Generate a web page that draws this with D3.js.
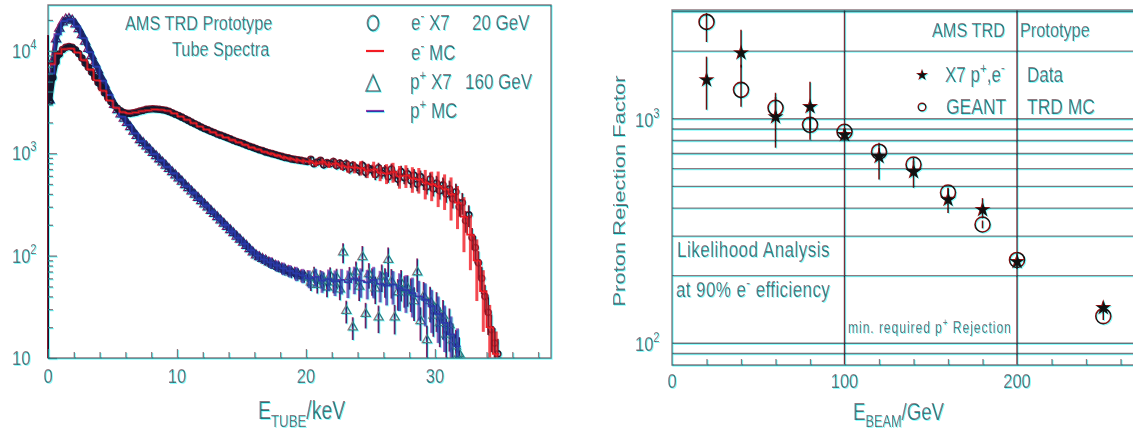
<!DOCTYPE html>
<html>
<head>
<meta charset="utf-8">
<script src="https://cdn.jsdelivr.net/npm/d3@7/dist/d3.min.js"></script>
<style>
  html, body { margin: 0; padding: 0; background: #fff; }
  svg { display: block; }
  text { font-family: "Liberation Sans", Arial, Helvetica, sans-serif; }
</style>
</head>
<body>
<svg id="fig" width="1133" height="433"></svg>
<script>
// ---------------- Tube spectra (left panel) ----------------
// Histogram contents; data bins are 0.25 keV wide, MC bins 0.5 keV wide, starting at 0 keV.
const DATA_BIN = 0.25;
const MC_BIN = 0.5;

// e- X7 20 GeV data
const electronData = [
  3200, 5500, 7800, 9300, 10300, 10800, 11000, 10800, 10200, 9400, 8500, 7600, 6900, 6200, 5500, 4900, 4400, 3900, 3500, 3200,
  2950, 2750, 2600, 2500, 2450, 2450, 2480, 2520, 2580, 2620, 2680, 2700, 2720, 2700, 2690, 2660, 2620, 2560, 2480, 2400,
  2330, 2250, 2170, 2090, 2010, 1940, 1870, 1800, 1740, 1690, 1640, 1590, 1540, 1500, 1460, 1420, 1380, 1340, 1300, 1270,
  1240, 1200, 1170, 1140, 1110, 1080, 1060, 1030, 1010, 990, 970, 950, 930, 910, 900, 880, 870, 860, 850, 840,
  830, 870, 790, 820, 850, 770, 810, 790, 830, 760, 800, 740, 790, 700, 760, 720, 680, 760, 650, 710,
  690, 620, 720, 640, 680, 590, 700, 610, 560, 660, 580, 630, 540, 610, 500, 590, 520, 470, 560, 450,
  510, 430, 490, 400, 450, 360, 420, 300, 330, 220, 250, 150, 120, 85, 60, 40, 28, 19, 14, 11
];

// p+ X7 160 GeV data
const protonData = [
  3300, 8000, 13000, 16500, 19000, 20300, 20500, 19800, 18200, 16300, 14300, 12300, 10500, 8900, 7600, 6500, 5500, 4700, 4000, 3450,
  2980, 2650, 2400, 2180, 1980, 1800, 1630, 1480, 1350, 1260, 1170, 1090, 1010, 940, 875, 815, 760, 705, 655, 610,
  570, 530, 490, 457, 425, 395, 368, 342, 318, 296, 275, 256, 238, 221, 206, 191, 178, 166, 154, 144,
  134, 125, 116, 108, 101, 97, 93, 90, 86, 84, 80, 78, 75, 73, 71, 69, 68, 66, 64, 63,
  61, 55, 66, 52, 60, 57, 49, 64, 55, 61, 47, 108, 29, 62, 20, 70, 50, 97, 27, 66,
  58, 48, 25, 63, 57, 91, 56, 25, 44, 54, 47, 48, 44, 36, 69, 23, 40, 15, 36, 26,
  31, 22, 26, 17, 21, 15, 13, 11
];

// e- Monte Carlo
const electronMC = [
  7500, 9500, 10500, 10600, 9700, 8200, 6600, 5200, 4100, 3300,
  2800, 2550, 2480, 2520, 2600, 2650, 2700, 2680, 2620, 2480,
  2300, 2140, 1990, 1840, 1720, 1620, 1520, 1440, 1360, 1290,
  1220, 1150, 1100, 1040, 1000, 960, 920, 890, 865, 845,
  835, 800, 830, 780, 800, 760, 740, 730, 720, 680,
  700, 650, 640, 660, 600, 610, 570, 560, 520, 500,
  480, 450, 400, 330, 240, 160, 90, 45, 20, 11
];

// p+ Monte Carlo
const protonMC = [
  6000, 14500, 19500, 20300, 17300, 13300, 9700, 7000, 5100, 3700,
  2800, 2280, 1890, 1560, 1310, 1130, 980, 850, 735, 635,
  550, 475, 410, 355, 307, 266, 230, 199, 172, 149,
  130, 113, 100, 92, 86, 80, 75, 71, 67, 64,
  60, 62, 57, 59, 56, 58, 55, 60, 57, 55,
  58, 53, 51, 52, 48, 46, 43, 40, 37, 32,
  27, 22, 17, 13
];

// Relative uncertainties, one entry per 1 keV interval (0-1, 1-2, ... 34-35 keV)
const electronDataErr = [0.04, 0.02, 0.02, 0.02, 0.02, 0.02, 0.02, 0.02, 0.02, 0.02, 0.03, 0.03, 0.03, 0.03, 0.03, 0.04, 0.04, 0.04, 0.05, 0.05,
  0.07, 0.08, 0.09, 0.10, 0.11, 0.12, 0.13, 0.14, 0.15, 0.16, 0.18, 0.20, 0.24, 0.30, 0.40];
const protonDataErr = [0.04, 0.02, 0.02, 0.02, 0.02, 0.02, 0.03, 0.03, 0.03, 0.04, 0.05, 0.06, 0.07, 0.08, 0.09, 0.10, 0.11, 0.12, 0.13, 0.14,
  0.18, 0.20, 0.22, 0.25, 0.28, 0.30, 0.32, 0.34, 0.36, 0.38, 0.42, 0.45, 0.50, 0.50, 0.50];
const electronMCErr = [0.02, 0.02, 0.02, 0.02, 0.02, 0.02, 0.02, 0.02, 0.02, 0.02, 0.02, 0.02, 0.02, 0.02, 0.03, 0.03, 0.03, 0.04, 0.05, 0.06,
  0.07, 0.08, 0.10, 0.13, 0.16, 0.18, 0.22, 0.25, 0.28, 0.32, 0.38, 0.45, 0.55, 0.60, 0.65];
const protonMCErr = [0.02, 0.02, 0.02, 0.02, 0.02, 0.02, 0.02, 0.03, 0.03, 0.03, 0.04, 0.05, 0.06, 0.07, 0.08, 0.09, 0.10, 0.12, 0.14, 0.16,
  0.20, 0.24, 0.28, 0.30, 0.32, 0.34, 0.36, 0.40, 0.42, 0.45, 0.48, 0.50, 0.50, 0.50, 0.50];

const tubeMajorX = [0, 10, 20, 30];
const tubeMinorX = [2, 4, 6, 8, 12, 14, 16, 18, 22, 24, 26, 28, 32, 34, 36, 38];
const countMajorY = [10, 100, 1000, 10000];
const countMinorY = [20, 30, 40, 50, 60, 70, 80, 90, 200, 300, 400, 500, 600, 700, 800, 900,
  2000, 3000, 4000, 5000, 6000, 7000, 8000, 9000, 20000];

// ---------------- Proton rejection (right panel) ----------------
const beamEnergy     = [20, 40, 60, 80, 100, 120, 140, 160, 180, 200, 250];
const dataRejection  = [1490, 1965, 1020, 1131, 849, 678, 581, 437, 394, 231, 144];
const dataLow        = [1097, 1690, 743, 807, 800, 536, 493, 380, 360, 215, 136];
const dataHigh       = [1890, 2490, 1305, 1460, 900, 782, 671, 493, 443, 248, 153];
const mcRejection    = [2700, 1345, 1119, 940, 875, 713, 625, 469, 338, 235, 132];
const mcLow          = [2197, 1130, 1010, 880, 840, 690, 600, 450, 325, 226, 127];
const mcHigh         = [2960, 1740, 1250, 1000, 910, 740, 650, 490, 352, 244, 137];

const rejectionGrid  = [90, 100, 200, 300, 400, 500, 600, 700, 800, 900, 1000, 2000, 3000];
const beamMinorX     = [20, 40, 60, 80, 120, 140, 160, 180, 220, 240, 260];
const beamMajorX     = [0, 100, 200];

// ---------------- drawing ----------------
const W = 1133, H = 433;
const INK = "#1f7a80";
const DARK = "#10182e";
const RED = "#ee1c24";
const BLUE = "#2b3aa8";
const SY = 1.28;            // glyphs are drawn taller than wide
const DENSE_LIMIT = 20;     // keV; below this the data points form a continuous band

const svg = d3.select("#fig");
const defs = svg.append("defs");

// faint colour-channel misregistration and softness of the printed figure
const flt = defs.append("filter").attr("id", "scan")
  .attr("filterUnits", "userSpaceOnUse")
  .attr("x", -5).attr("y", -5).attr("width", W + 10).attr("height", H + 10)
  .attr("color-interpolation-filters", "sRGB");
flt.append("feColorMatrix").attr("in", "SourceGraphic").attr("type", "matrix")
  .attr("values", "0.5 0 0 0 0  0 0 0 0 0  0 0 0 0 0  0 0 0 1 0").attr("result", "redA");
flt.append("feOffset").attr("in", "redA").attr("dx", 1).attr("dy", 1).attr("result", "redShift");
flt.append("feColorMatrix").attr("in", "SourceGraphic").attr("type", "matrix")
  .attr("values", "0.5 0 0 0 0  0 1 0 0 0  0 0 1 0 0  0 0 0 1 0").attr("result", "rest");
flt.append("feComposite").attr("in", "redShift").attr("in2", "rest").attr("operator", "arithmetic")
  .attr("k1", 0).attr("k2", 1).attr("k3", 1).attr("k4", 0).attr("result", "merged");
flt.append("feGaussianBlur").attr("in", "merged").attr("stdDeviation", 0.45);

const root = svg.append("g").attr("filter", "url(#scan)");
root.append("rect").attr("x", -5).attr("y", -5).attr("width", W + 10).attr("height", H + 10).attr("fill", "#fff");

// text helper: parts are strings or {t, s:"sup"|"sub", x}
function label(g, x, y, parts, o = {}) {
  const size = o.size || 16;
  let tf = `translate(${x},${y}) scale(1,${SY})`;
  if (o.rotate) tf += ` rotate(${o.rotate})`;
  const t = g.append("text").attr("transform", tf)
    .attr("font-size", size).attr("fill", o.fill || INK)
    .attr("text-anchor", o.anchor || "start")
    .attr("xml:space", "preserve");
  if (o.ls) t.attr("letter-spacing", o.ls);
  let shift = 0;
  parts.forEach(p => {
    const part = typeof p === "string" ? { t: p } : p;
    const want = part.s === "sup" ? -0.42 * size : part.s === "sub" ? 0.3 * size : 0;
    const ts = t.append("tspan").text(part.t);
    if (want !== shift) ts.attr("dy", want - shift);
    shift = want;
    if (part.s) ts.attr("font-size", size * 0.68);
    if (part.x !== undefined) ts.attr("x", part.x - x);
  });
  return t;
}

function decadeLabel(v) {
  const n = Math.round(Math.log10(v));
  return n === 1 ? ["10"] : ["10", { t: String(n), s: "sup" }];
}

// ===== left panel =====
const L = { x0: 48, x1: 551, y0: 5, y1: 358 };
const xL = d3.scaleLinear().domain([0, 39]).range([L.x0, L.x1]);
const yL = d3.scaleLog().domain([10, 28000]).range([L.y1, L.y0]);

defs.append("clipPath").attr("id", "clipL").append("rect")
  .attr("x", L.x0).attr("y", L.y0).attr("width", L.x1 - L.x0).attr("height", L.y1 - L.y0);

const gL = root.append("g");
const plotL = gL.append("g").attr("clip-path", "url(#clipL)");

function errAt(arr, E) { return arr[Math.min(arr.length - 1, Math.floor(E))]; }

function drawData(series, errs, color, marker) {
  const pts = series.map((v, i) => ({ E: (i + 0.5) * DATA_BIN, v }));
  const g = plotL.append("g");
  g.append("path").datum(pts.filter(d => d.E < DENSE_LIMIT))
    .attr("d", d3.line().x(d => xL(d.E)).y(d => yL(d.v)))
    .attr("fill", "none").attr("stroke", color).attr("stroke-width", 5)
    .attr("stroke-linejoin", "round");
  g.selectAll("line.err").data(pts).join("line").attr("class", "err")
    .attr("x1", d => xL(d.E)).attr("x2", d => xL(d.E))
    .attr("y1", d => yL(Math.max(10, d.v * (1 - errAt(errs, d.E)))))
    .attr("y2", d => yL(d.v * (1 + errAt(errs, d.E))))
    .attr("stroke", color).attr("stroke-width", d => d.E < DENSE_LIMIT ? 1.3 : 1.8);
  if (marker === "circle") {
    g.selectAll("circle").data(pts).join("circle")
      .attr("cx", d => xL(d.E)).attr("cy", d => yL(d.v)).attr("r", 3)
      .attr("fill", "none").attr("stroke", color).attr("stroke-width", 1.6);
  } else {
    g.selectAll("path.tri").data(pts).join("path").attr("class", "tri")
      .attr("d", d3.symbol(d3.symbolTriangle, 36))
      .attr("transform", d => `translate(${xL(d.E)},${yL(d.v)})`)
      .attr("fill", "none").attr("stroke", d => d.E < DENSE_LIMIT ? color : INK).attr("stroke-width", 1.3);
  }
}

function drawMC(series, errs, color) {
  const pts = series.map((v, i) => ({ E: i * MC_BIN, v }));
  pts.push({ E: series.length * MC_BIN, v: series[series.length - 1] });
  const g = plotL.append("g");
  const centres = series.map((v, i) => ({ E: (i + 0.5) * MC_BIN, v }));
  g.selectAll("line").data(centres).join("line")
    .attr("x1", d => xL(d.E)).attr("x2", d => xL(d.E))
    .attr("y1", d => yL(Math.max(10, d.v * (1 - errAt(errs, d.E)))))
    .attr("y2", d => yL(d.v * (1 + errAt(errs, d.E))))
    .attr("stroke", color).attr("stroke-width", 3).attr("stroke-opacity", 0.8);
  g.append("path").datum(pts)
    .attr("d", d3.line().curve(d3.curveStepAfter).x(d => xL(d.E)).y(d => yL(d.v)))
    .attr("fill", "none").attr("stroke", color).attr("stroke-width", 1.8);
}

drawData(protonData, protonDataErr, "#1a2468", "triangle");
drawData(electronData, electronDataErr, DARK, "circle");
drawMC(protonMC, protonMCErr, BLUE);
drawMC(electronMC, electronMCErr, RED);

// frame and axes
gL.append("path")
  .attr("d", `M${L.x0},${L.y1} V${L.y0} H${L.x1} V${L.y1} Z`)
  .attr("fill", "none").attr("stroke", INK).attr("stroke-width", 1.4);
gL.append("line").attr("x1", L.x0).attr("x2", L.x0).attr("y1", L.y0 + 30).attr("y2", L.y1)
  .attr("stroke", DARK).attr("stroke-width", 2);

function tickAxis(g, axis, tx, ty) {
  const a = g.append("g").attr("transform", `translate(${tx},${ty})`).attr("color", INK).call(axis);
  a.select(".domain").remove();
  a.selectAll("line").attr("stroke-width", 1.3);
  return a;
}
tickAxis(gL, d3.axisBottom(xL).tickValues(tubeMajorX).tickSize(-9).tickFormat(""), 0, L.y1);
tickAxis(gL, d3.axisBottom(xL).tickValues(tubeMinorX).tickSize(-6).tickFormat(""), 0, L.y1);
tickAxis(gL, d3.axisLeft(yL).tickValues(countMajorY).tickSize(-9).tickFormat(""), L.x0, 0);
tickAxis(gL, d3.axisLeft(yL).tickValues(countMinorY).tickSize(-5).tickFormat(""), L.x0, 0);

tubeMajorX.forEach(v => label(gL, xL(v), 383, [String(v)], { size: 16.5, anchor: "middle" }));
countMajorY.forEach(v => label(gL, 12, yL(v) + 7, decadeLabel(v), { size: 16.5 }));

label(gL, 258, 419, ["E", { t: "TUBE", s: "sub" }, "/keV"], { size: 19.5 });

label(gL, 125, 30, ["AMS TRD Prototype"], { size: 16.3 });
label(gL, 172, 56, ["Tube Spectra"], { size: 16.3 });

// legend
gL.append("ellipse").attr("cx", 373).attr("cy", 23).attr("rx", 5.5).attr("ry", 7.5)
  .attr("fill", "none").attr("stroke", INK).attr("stroke-width", 1.8);
gL.append("line").attr("x1", 366).attr("x2", 384).attr("y1", 51).attr("y2", 51)
  .attr("stroke", RED).attr("stroke-width", 2.2);
gL.append("path").attr("d", "M373,75 L380,91 L366,91 Z")
  .attr("fill", "none").attr("stroke", INK).attr("stroke-width", 1.6);
gL.append("line").attr("x1", 366).attr("x2", 384).attr("y1", 111).attr("y2", 111)
  .attr("stroke", BLUE).attr("stroke-width", 2.2);

label(gL, 411, 30, ["e", { t: "-", s: "sup" }, " X7", { t: "20 GeV", x: 472 }], { size: 17 });
label(gL, 411, 60, ["e", { t: "-", s: "sup" }, " MC"], { size: 17 });
label(gL, 410, 89, ["p", { t: "+", s: "sup" }, " X7", { t: "160 GeV", x: 465 }], { size: 17 });
label(gL, 410, 118, ["p", { t: "+", s: "sup" }, " MC"], { size: 17 });

// ===== right panel =====
const R = { x0: 672, y0: 10, y1: 365 };
const xR = d3.scaleLinear().domain([0, 270]).range([R.x0, R.x0 + 270 * 1.725]);
const yR = d3.scaleLog().domain([80, 3050]).range([R.y1, R.y0]);
const R_X1 = xR(270);

const gR = root.append("g");

// horizontal grid at 1-2-3...9 x decades
gR.selectAll("line.grid").data(rejectionGrid).join("line").attr("class", "grid")
  .attr("x1", R.x0).attr("x2", R_X1)
  .attr("y1", d => yR(d)).attr("y2", d => yR(d))
  .attr("stroke", INK).attr("stroke-width", 1.3);
// vertical lines at the labelled beam energies
gR.selectAll("line.vgrid").data(beamMajorX.slice(1)).join("line").attr("class", "vgrid")
  .attr("x1", d => xR(d)).attr("x2", d => xR(d))
  .attr("y1", R.y0).attr("y2", R.y1)
  .attr("stroke", "#16303a").attr("stroke-width", 1.4);

gR.append("path")
  .attr("d", `M${R_X1},${R.y1} H${R.x0} V${R.y0} H${R_X1}`)
  .attr("fill", "none").attr("stroke", INK).attr("stroke-width", 1.4);
tickAxis(gR, d3.axisBottom(xR).tickValues(beamMinorX).tickSize(-6).tickFormat(""), 0, R.y1);

beamMajorX.forEach(v => label(gR, xR(v), 388, [String(v)], { size: 16.5, anchor: "middle" }));
[100, 1000].forEach(v => label(gR, 635, yR(v) + 8, decadeLabel(v), { size: 16.5 }));

label(gR, 853, 420, ["E", { t: "BEAM", s: "sub" }, "/GeV"], { size: 18.7 });
label(gR, 625, 191, ["Proton Rejection Factor"], { size: 17.2, anchor: "middle", rotate: -90 });

// measurements and simulation
const pts = beamEnergy.map((E, i) => ({
  E, d: dataRejection[i], dLo: dataLow[i], dHi: dataHigh[i],
  m: mcRejection[i], mLo: mcLow[i], mHi: mcHigh[i]
}));
gR.selectAll("line.mcerr").data(pts).join("line").attr("class", "mcerr")
  .attr("x1", d => xR(d.E)).attr("x2", d => xR(d.E))
  .attr("y1", d => yR(d.mLo)).attr("y2", d => yR(d.mHi))
  .attr("stroke", "#111").attr("stroke-width", 1.5);
gR.selectAll("line.derr").data(pts).join("line").attr("class", "derr")
  .attr("x1", d => xR(d.E)).attr("x2", d => xR(d.E))
  .attr("y1", d => yR(d.dLo)).attr("y2", d => yR(d.dHi))
  .attr("stroke", "#111").attr("stroke-width", 1.5);
gR.selectAll("circle.mc").data(pts).join("circle").attr("class", "mc")
  .attr("cx", d => xR(d.E)).attr("cy", d => yR(d.m)).attr("r", 7.5)
  .attr("fill", "none").attr("stroke", "#111").attr("stroke-width", 1.6);
gR.selectAll("path.star").data(pts).join("path").attr("class", "star")
  .attr("d", d3.symbol(d3.symbolStar, 80))
  .attr("transform", d => `translate(${xR(d.E)},${yR(d.d)})`)
  .attr("fill", "#111");

// annotations
label(gR, 932, 37, ["AMS TRD", { t: "Prototype", x: 1020 }], { size: 16.3 });
gR.append("path").attr("d", d3.symbol(d3.symbolStar, 45)).attr("transform", "translate(922,75)").attr("fill", "#111");
label(gR, 945, 82, ["X7 p", { t: "+", s: "sup" }, ",e", { t: "-", s: "sup" }], { size: 17 });
label(gR, 1027, 82, ["Data"], { size: 17 });
gR.append("circle").attr("cx", 922).attr("cy", 107).attr("r", 3.8)
  .attr("fill", "none").attr("stroke", "#111").attr("stroke-width", 1.4);
label(gR, 946, 114, ["GEANT"], { size: 17.5 });
label(gR, 1027, 114, ["TRD MC"], { size: 17.5 });

label(gR, 677, 257, ["Likelihood Analysis"], { size: 17, ls: 0.5 });
label(gR, 676, 297, ["at 90% e", { t: "-", s: "sup" }, " efficiency"], { size: 17, ls: 0.4 });
label(gR, 848, 333, ["min. required p", { t: "+", s: "sup" }, " Rejection"], { size: 12.2, ls: 0.9 });
</script>
</body>
</html>
